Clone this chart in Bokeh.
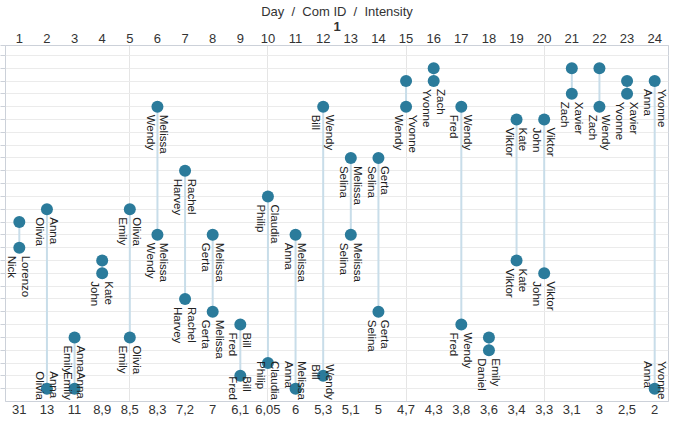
import math
from bokeh.plotting import figure
from bokeh.models import Range1d, LinearAxis, FixedTicker, Grid
from bokeh.core.properties import value
from bokeh.embed import file_html
from bokeh.resources import INLINE

# ---------------- data ----------------
days = list(range(1, 25))
intensity = ["31", "13", "11", "8,9", "8,5", "8,3", "7,2", "7", "6,1", "6,05", "6", "5,3",
             "5,1", "5", "4,7", "4,3", "3,8", "3,6", "3,4", "3,3", "3,1", "3", "2,5", "2"]
group_label = "1"
axis_title = "Day \u00a0/ \u00a0Com ID \u00a0/ \u00a0Intensity"

# slot index (row) of the two communications of each day (0 = top row)
start_slot = [13, 12, 22, 16, 12, 4, 9, 14, 21, 11, 14, 4, 8, 8, 2, 1, 4, 22, 5, 5, 1, 1, 2, 2]
end_slot = [15, 26, 26, 17, 22, 14, 19, 20, 25, 24, 26, 25, 14, 20, 4, 2, 21, 23, 16, 17, 3, 4, 3, 26]

# names shown at each point ("" = label hidden because it overlaps)
start_from = ["", "Anna", "Anna", "", "Olivia", "Melissa", "Rachel", "Melissa", "Bill", "Claudia",
              "Melissa", "Wendy", "Melissa", "Gerta", "", "", "Wendy", "", "Kate", "Viktor",
              "", "", "", "Yvonne"]
start_to = ["", "Olivia", "Emily", "", "Emily", "Wendy", "Harvey", "Gerta", "Fred", "Philip",
            "Anna", "Bill", "Selina", "Selina", "", "", "Fred", "", "Viktor", "John",
            "", "", "", "Anna"]
end_from = ["Lorenzo", "Anna", "Anna", "Kate", "Olivia", "Melissa", "Rachel", "Melissa", "Bill",
            "Claudia", "Melissa", "Wendy", "Melissa", "Gerta", "Yvonne", "Zach", "Wendy", "Emily",
            "Kate", "Viktor", "Xavier", "Wendy", "Xavier", "Yvonne"]
end_to = ["Nick", "Olivia", "Emily", "John", "Emily", "Wendy", "Harvey", "Gerta", "Fred",
          "Philip", "Anna", "Bill", "Selina", "Selina", "Wendy", "Yvonne", "Fred", "Daniel",
          "Viktor", "John", "Zach", "Zach", "Yvonne", "Anna"]

# ---------------- styling ----------------
FONT = "Liberation Sans"
TEXT = "#333333"
DOT = "#2b7b9b"
LINK = "#c8dde9"
GRID = "#ebebeb"
AXIS = "#ccd1d9"

Y_TOP, Y_BOT = -0.77, 27.0
FRAME_H = 356
FRAME_W = 663
PPK = FRAME_H / (Y_BOT - Y_TOP)   # pixels per slot
NAME_PX = 11.5

W = {'A': .667, 'B': .667, 'C': .722, 'D': .722, 'E': .667, 'F': .611, 'G': .778, 'H': .722,
     'I': .278, 'J': .5, 'K': .667, 'L': .556, 'M': .833, 'N': .722, 'O': .778, 'P': .667,
     'Q': .778, 'R': .722, 'S': .667, 'T': .611, 'U': .722, 'V': .667, 'W': .944, 'X': .667,
     'Y': .667, 'Z': .611}
w_low = dict(zip("abcdefghijklmnopqrstuvwxyz",
                 [.556, .556, .5, .556, .556, .278, .556, .556, .222, .222, .5, .222, .833,
                  .556, .556, .556, .556, .333, .5, .278, .556, .5, .722, .5, .5, .5]))
W.update(w_low)


def text_len(s):
    return sum(W.get(c, .556) for c in s) * NAME_PX


def label_anchor(slot, a, b):
    length = max(text_len(a), text_len(b))
    y = slot + 8.0 / PPK
    y_max = Y_BOT - (length + 1.5) / PPK
    return min(y, y_max)


p = figure(frame_width=FRAME_W, frame_height=FRAME_H, output_backend="svg", toolbar_location=None,
           x_range=Range1d(0.5, 24.5), y_range=Range1d(Y_BOT, Y_TOP),
           x_axis_location=None, y_axis_location=None,
           min_border_left=0, min_border_right=1, min_border_top=0, min_border_bottom=0)
p.outline_line_color = AXIS
p.background_fill_color = "white"

# grid
p.add_layout(Grid(dimension=1, ticker=FixedTicker(ticks=list(range(27))), grid_line_color=GRID,
                  grid_line_width=1))

# left axis: only outward ticks
left = LinearAxis(ticker=FixedTicker(ticks=[Y_TOP] + list(range(27))),
                  major_label_overrides={t: "" for t in [Y_TOP] + list(range(27))},
                  axis_line_color=None, major_tick_out=5, major_tick_in=0,
                  major_tick_line_color=AXIS, minor_tick_line_color=None,
                  major_label_standoff=0, major_label_text_font_size="1px")
p.add_layout(left, "left")

# top axis with days
top = LinearAxis(ticker=FixedTicker(ticks=days),
                 major_label_overrides={d: str(d) for d in days},
                 axis_line_color=AXIS, major_tick_out=0, major_tick_in=0,
                 minor_tick_line_color=None, major_tick_line_color=None,
                 major_label_standoff=3, major_label_text_font_size="13px",
                 major_label_text_color=TEXT, major_label_text_font=FONT)
p.add_layout(top, "above")

# group axis with the com id and the axis title
grp = LinearAxis(ticker=FixedTicker(ticks=[12.5]), major_label_overrides={12.5: group_label},
                 axis_line_color=None, major_tick_out=0, major_tick_in=0,
                 minor_tick_line_color=None, major_tick_line_color=None,
                 major_label_standoff=0, major_label_text_font_size="13px",
                 major_label_text_font_style="bold",
                 major_label_text_color=TEXT, major_label_text_font=FONT,
                 axis_label=axis_title, axis_label_standoff=0,
                 axis_label_text_font_size="13px", axis_label_text_font_style="normal",
                 axis_label_text_color=TEXT, axis_label_text_font=FONT)
p.add_layout(grp, "above")

# bottom axis with intensity
bot = LinearAxis(ticker=FixedTicker(ticks=days),
                 major_label_overrides={d: s for d, s in zip(days, intensity)},
                 axis_line_color=AXIS, major_tick_out=0, major_tick_in=0,
                 minor_tick_line_color=None, major_tick_line_color=None,
                 major_label_standoff=3, major_label_text_font_size="13px",
                 major_label_text_color=TEXT, major_label_text_font=FONT)
p.add_layout(bot, "below")

# connectors
p.segment(x0=days, y0=start_slot, x1=days, y1=end_slot, line_color=LINK, line_width=2)

# dots
p.scatter(x=days + days, y=start_slot + end_slot, size=12, fill_color=DOT, line_color=None)

# labels
lx, ly, lt = [], [], []
for d, s, a, b in zip(days, start_slot, start_from, start_to):
    if a:
        lx.append(d); ly.append(label_anchor(s, a, b)); lt.append(a + "\n" + b)
for d, s, a, b in zip(days, end_slot, end_from, end_to):
    if a:
        lx.append(d); ly.append(label_anchor(s, a, b)); lt.append(a + "\n" + b)

p.text(x=lx, y=ly, text=lt, angle=-math.pi / 2, text_align="left", text_baseline="middle",
       text_font=value(FONT), text_font_size=f"{NAME_PX}px", text_color="#222222",
       text_line_height=1.15)

open("out.html", "w").write(file_html(p, INLINE))
